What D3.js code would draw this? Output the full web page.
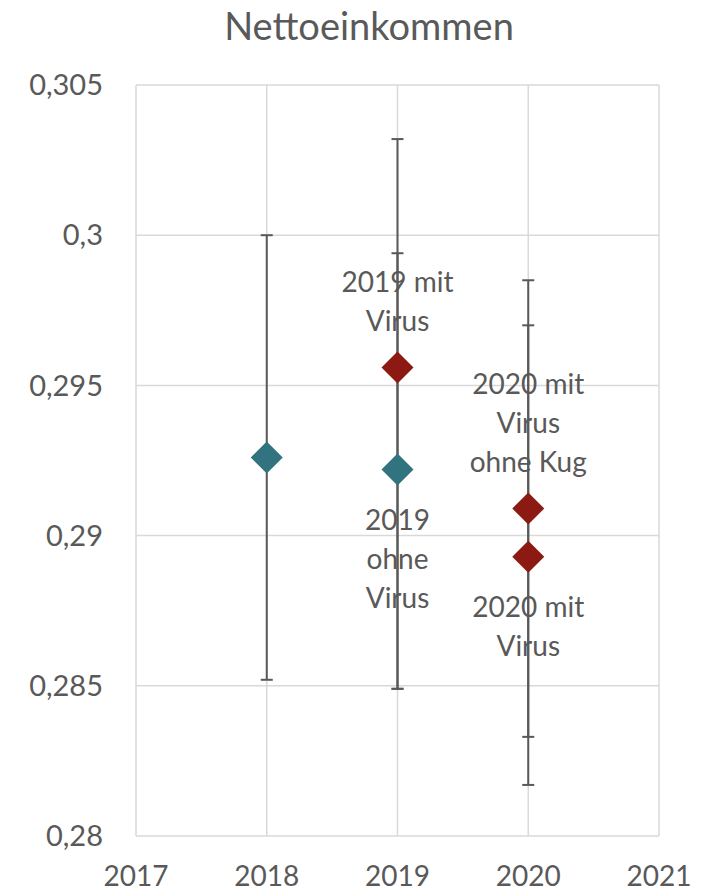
<!DOCTYPE html>
<html>
<head>
<meta charset="utf-8">
<script src="https://cdn.jsdelivr.net/npm/d3@7"></script>
<style>
  body { margin: 0; background: #fff; }
  text { font-family: Lato, "Open Sans", sans-serif; fill: #595959; }
</style>
</head>
<body>
<div class="chart"></div>
<script>
// data
const years = [2018, 2019, 2019, 2020, 2020];
const values = [0.2926, 0.2922, 0.2956, 0.2909, 0.2893];
const errHigh = [0.3000, 0.2994, 0.3032, 0.2985, 0.2970];
const errLow = [0.2852, 0.2849, 0.2849, 0.2833, 0.2817];
const series = ['ohne', 'ohne', 'mit', 'mit', 'mit'];
const labels = [[], ['2019', 'ohne', 'Virus'], ['2019 mit', 'Virus'], ['2020 mit', 'Virus', 'ohne Kug'], ['2020 mit', 'Virus']];
const labelPos = ['none', 'below', 'above', 'above', 'below'];
const xTicks = [2017, 2018, 2019, 2020, 2021];
const yTicks = [0.28, 0.285, 0.29, 0.295, 0.3, 0.305];
const title = 'Nettoeinkommen';

const colors = { ohne: '#31737f', mit: '#8c1a13' };
const width = 714, height = 891;
const margin = { top: 85, right: 55, bottom: 55, left: 136 };
const innerW = width - margin.left - margin.right;
const innerH = height - margin.top - margin.bottom;

const svg = d3.select('.chart').append('svg')
  .attr('width', width).attr('height', height);

svg.append('text')
  .attr('x', 369).attr('y', 40)
  .attr('text-anchor', 'middle')
  .style('font-size', '38px')
  .text(title);

const g = svg.append('g').attr('transform', 'translate(' + margin.left + ',' + margin.top + ')');

const x = d3.scaleLinear().domain([2017, 2021]).range([0, innerW]);
const y = d3.scaleLinear().domain([0.28, 0.305]).range([innerH, 0]);

// grid
g.selectAll('.vgrid').data(xTicks).enter().append('line')
  .attr('x1', (d) => x(d)).attr('x2', (d) => x(d))
  .attr('y1', 0).attr('y2', innerH)
  .attr('stroke', '#d9d9d9').attr('stroke-width', 1.5);
g.selectAll('.hgrid').data(yTicks).enter().append('line')
  .attr('x1', 0).attr('x2', innerW)
  .attr('y1', (d) => y(d)).attr('y2', (d) => y(d))
  .attr('stroke', '#d9d9d9').attr('stroke-width', 1.5);

// axes labels
const fmt = (d) => String(+d.toFixed(3)).replace('.', ',');
g.selectAll('.ylab').data(yTicks).enter().append('text')
  .attr('x', -33).attr('y', (d) => y(d))
  .attr('dy', '0.35em')
  .attr('text-anchor', 'end')
  .style('font-size', '29px')
  .text(fmt);
g.selectAll('.xlab').data(xTicks).enter().append('text')
  .attr('x', (d) => x(d)).attr('y', innerH + 50)
  .attr('text-anchor', 'middle')
  .style('font-size', '28px')
  .text((d) => d);

const pts = years.map((yr, i) => ({ yr, v: values[i], hi: errHigh[i], lo: errLow[i], s: series[i], lab: labels[i], pos: labelPos[i] }));

// error bars
const cap = 6;
pts.forEach((d) => {
  g.append('line')
    .attr('x1', x(d.yr)).attr('x2', x(d.yr))
    .attr('y1', y(d.hi)).attr('y2', y(d.lo))
    .attr('stroke', '#595959').attr('stroke-width', 2);
  [d.hi, d.lo].forEach((e) => {
    g.append('line')
      .attr('x1', x(d.yr) - cap).attr('x2', x(d.yr) + cap)
      .attr('y1', y(e)).attr('y2', y(e))
      .attr('stroke', '#595959').attr('stroke-width', 2);
  });
});

// diamond markers
const r = 16;
g.selectAll('.pt').data(pts).enter().append('path')
  .attr('d', (d) => {
    const cx = x(d.yr), cy = y(d.v);
    return 'M' + cx + ',' + (cy - r) + 'L' + (cx + r) + ',' + cy + 'L' + cx + ',' + (cy + r) + 'L' + (cx - r) + ',' + cy + 'Z';
  })
  .attr('fill', (d) => colors[d.s]);

// data labels
const lh = 39;
pts.forEach((d) => {
  if (!d.lab.length) return;
  const n = d.lab.length;
  const cx = x(d.yr), cy = y(d.v);
  d.lab.forEach((t, j) => {
    let ty;
    if (d.pos === 'above') ty = cy - 46 - (n - 1 - j) * lh;
    else ty = cy + 51 + j * lh;
    g.append('text')
      .attr('x', cx).attr('y', ty)
      .attr('dy', '0.35em')
      .attr('text-anchor', 'middle')
      .style('font-size', '28px')
      .text(t);
  });
});
</script>
</body>
</html>
